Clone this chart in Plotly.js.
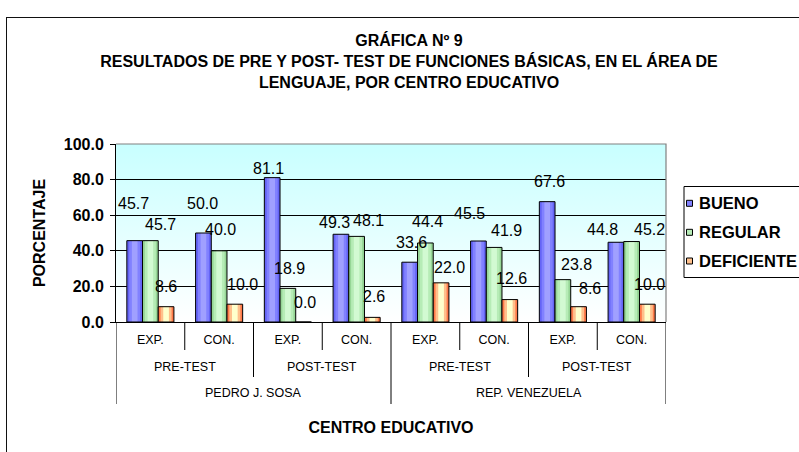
<!DOCTYPE html>
<html>
<head>
<meta charset="utf-8">
<script src="https://cdn.plot.ly/plotly-3.0.1.min.js"></script>
<style>
  html, body { margin: 0; padding: 0; overflow: hidden; background: #fff; width: 799px; height: 452px; }
  #chart { position: absolute; left: 0; top: 0; }
  #frame { position: absolute; left: 6px; top: 17px; width: 900px; height: 600px; border: 1px solid #111; pointer-events: none; }
</style>
</head>
<body>
<div id="chart"></div>
<div id="frame"></div>
<script>
// ---- data ----
const schools = ["PEDRO J. SOSA", "REP. VENEZUELA"];
const tests = ["PRE-TEST", "POST-TEST"];
const groups = ["EXP.", "CON."];
const seriesNames = ["BUENO", "REGULAR", "DEFICIENTE"];
const bueno = [45.7, 50.0, 81.1, 49.3, 33.6, 45.5, 67.6, 44.8];
const regular = [45.7, 40.0, 18.9, 48.1, 44.4, 41.9, 23.8, 45.2];
const deficiente = [8.6, 10.0, 0.0, 2.6, 22.0, 12.6, 8.6, 10.0];
const yTicks = [0, 20, 40, 60, 80, 100];
const chartTitle = "GRÁFICA Nº 9<br>RESULTADOS DE PRE Y POST- TEST DE FUNCIONES BÁSICAS, EN EL ÁREA DE<br>LENGUAJE, POR CENTRO EDUCATIVO";
const xTitle = "CENTRO EDUCATIVO";
const yTitle = "PORCENTAJE";

// ---- styles / layout ----
// [edge, mid, center] shading per series (imitates the 3-D gradient fill)
const shades = [
  ["#6464f5", "#8181ff", "#a0a0ff"],
  ["#96d696", "#b6ecb6", "#d2fad2"],
  ["#ff7a4a", "#ffc08c", "#ffffcc"]
];
const FONT = "Liberation Sans, Arial, Helvetica, sans-serif";
const W = 818, H = 460;
const L = 116, T = 144, PR = 666, PB = 322;
const PW = PR - L, PH = PB - T;
const bargap = 0.315;
const bw = (1 - bargap) / 3;
// per-label pixel nudges [dx, dy] (reference placement)
const labelNudge = [
  [[-1,37],[-1,30],[-4,9],[-6,12],[2,20],[-9,28],[2,20],[-13,13]],
  [[10,16],[1,21],[2,20],[12,16],[2,21],[12,17],[14,15],[18,12]],
  [[0,20],[8,20],[1,20],[2,21],[8,15],[2,21],[11,18],[2,20]]
];

const n = bueno.length;
const xIdx = Array.from({length: n}, (_, i) => i);
const tickLabels = xIdx.map(i => groups[i % 2]);
const allSeries = [bueno, regular, deficiente];

const traces = [];
const layerFrac = [1, 0.7, 0.36];
allSeries.forEach((vals, s) => {
  const off = -1.5 * bw + s * bw;
  layerFrac.forEach((f, k) => {
    traces.push({
      type: "bar", x: xIdx, y: vals, name: seriesNames[s],
      width: bw * f, offset: off + bw * (1 - f) / 2,
      marker: { color: shades[s][k], line: { width: 0 } },
      showlegend: false, hoverinfo: "skip"
    });
  });
  traces.push({
    type: "bar", x: xIdx, y: vals, name: seriesNames[s],
    width: bw, offset: off,
    marker: { color: "rgba(0,0,0,0)", line: { color: "#000", width: 1 } },
    showlegend: false, hoverinfo: "name+y"
  });
});

const px2x = px => (px - L) / PW;       // paper x
const py2y = py => (PB - py) / PH;      // paper y

const annotations = [];
const shapes = [];

// data labels
allSeries.forEach((vals, s) => {
  vals.forEach((v, i) => {
    annotations.push({
      x: i + (s - 1) * bw, y: v, xref: "x", yref: "y",
      text: v.toFixed(1), showarrow: false,
      xanchor: "center", yanchor: "middle",
      xshift: labelNudge[s][i][0], yshift: labelNudge[s][i][1],
      font: { family: FONT, size: 16, color: "#000" }
    });
  });
});

// hierarchical category labels
for (let j = 0; j < n / 2; j++) {
  annotations.push({
    x: 2 * j + 0.5, y: py2y(366.5), xref: "x", yref: "paper",
    text: tests[j % 2], showarrow: false, xanchor: "center", yanchor: "middle",
    font: { family: FONT, size: 12.5, color: "#000" }
  });
}
for (let j = 0; j < n / 4; j++) {
  annotations.push({
    x: 4 * j + 1.5, y: py2y(393), xref: "x", yref: "paper",
    text: schools[j], showarrow: false, xanchor: "center", yanchor: "middle",
    font: { family: FONT, size: 12.5, color: "#000" }
  });
}
// dividers
for (let k = 0; k <= n; k++) {
  let bottom = 350;
  if (k % 4 === 0) bottom = 404;
  else if (k % 2 === 0) bottom = 377;
  shapes.push({
    type: "line", xref: "x", yref: "paper",
    x0: k - 0.5, x1: k - 0.5, y0: 0, y1: py2y(bottom),
    line: { color: "#000", width: 1 }
  });
}
// plot area border top & right (gray)
shapes.push({
  type: "path", xref: "paper", yref: "paper",
  path: "M0,1 L1,1 L1,0", line: { color: "#808080", width: 1.2 }, layer: "above"
});

// custom legend
shapes.push({
  type: "rect", xref: "paper", yref: "paper",
  x0: px2x(684), x1: px2x(812), y0: py2y(186.5), y1: py2y(277.5),
  line: { color: "#000", width: 1 }, fillcolor: "#fff"
});
const legY = [203.3, 232.3, 261];
seriesNames.forEach((nm, s) => {
  shapes.push({
    type: "rect", xref: "paper", yref: "paper",
    x0: px2x(686.5), x1: px2x(692.5), y0: py2y(legY[s] + 3), y1: py2y(legY[s] - 3),
    line: { color: "#000", width: 1 }, fillcolor: shades[s][1]
  });
  annotations.push({
    x: px2x(696.5), y: py2y(legY[s]), xref: "paper", yref: "paper",
    text: nm, showarrow: false, xanchor: "left", yanchor: "middle",
    font: { family: FONT, size: 16.5, color: "#000", weight: 700 }
  });
});

// plot background gradient (light cyan to white)
const gradSvg = "<svg xmlns='http://www.w3.org/2000/svg' width='10' height='100' preserveAspectRatio='none'>" +
  "<defs><linearGradient id='g' x1='0' y1='0' x2='0' y2='1'>" +
  "<stop offset='0' stop-color='#c8ffff'/><stop offset='1' stop-color='#ffffff'/></linearGradient></defs>" +
  "<rect width='10' height='100' fill='url(#g)'/></svg>";
const gradUri = "data:image/svg+xml;base64," + btoa(gradSvg);

const layout = {
  width: W, height: H,
  margin: { l: L, r: W - PR, t: T, b: H - PB, pad: 0 },
  paper_bgcolor: "rgba(0,0,0,0)",
  plot_bgcolor: "rgba(0,0,0,0)",
  font: { family: FONT, color: "#000" },
  title: {
    text: chartTitle,
    x: 409 / W, xanchor: "center", xref: "container",
    y: 1 - 46 / H, yanchor: "middle", yref: "container",
    font: { family: FONT, size: 16, weight: 700, color: "#000" }
  },
  barmode: "overlay",
  showlegend: false,
  xaxis: {
    type: "linear",
    range: [-0.5, n - 0.5],
    tickvals: xIdx, ticktext: tickLabels,
    ticks: "", showgrid: false, zeroline: false,
    showline: true, linecolor: "#000", linewidth: 1,
    tickfont: { family: FONT, size: 12.5, color: "#000" },
    ticklabelstandoff: 6,
    title: { text: xTitle, standoff: 75, font: { family: FONT, size: 16, weight: 700, color: "#000" } },
    automargin: false, fixedrange: true
  },
  yaxis: {
    range: [0, 100],
    tickvals: yTicks, tickformat: ".1f",
    ticks: "outside", ticklen: 5, tickcolor: "#000", tickwidth: 1,
    showgrid: true, gridcolor: "#000", gridwidth: 1,
    zeroline: false,
    showline: true, linecolor: "#000", linewidth: 1,
    tickfont: { family: FONT, size: 16, weight: 700, color: "#000" },
    ticklabelstandoff: 3,
    title: { text: yTitle, standoff: 14, font: { family: FONT, size: 16, weight: 700, color: "#000" } },
    automargin: false, fixedrange: true
  },
  images: [{
    source: gradUri, xref: "paper", yref: "paper",
    x: 0, y: 1, sizex: 1, sizey: 1, sizing: "stretch",
    xanchor: "left", yanchor: "top", layer: "below"
  }],
  annotations: annotations,
  shapes: shapes
};

Plotly.newPlot("chart", traces, layout, { displayModeBar: false, staticPlot: true });
</script>
</body>
</html>
